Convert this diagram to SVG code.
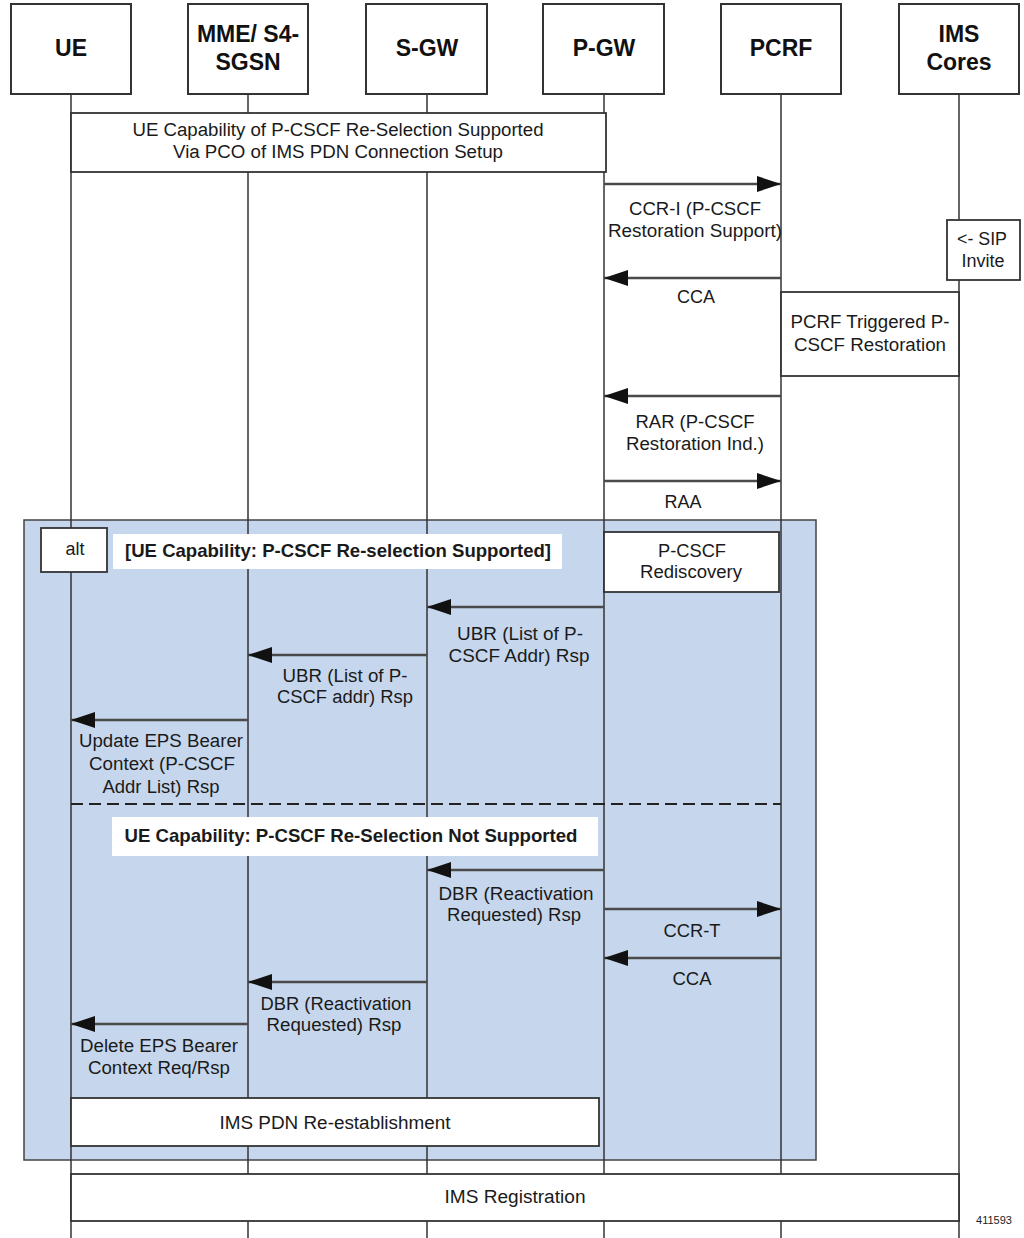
<svg xmlns="http://www.w3.org/2000/svg" width="1024" height="1238" viewBox="0 0 1024 1238">
<style>
.hdr{fill:#fff;stroke:#333;stroke-width:2}
.life{stroke:#333;stroke-width:1.5;fill:none}
.box{fill:#fff;stroke:#333;stroke-width:1.8}
.msg{stroke:#4a4a4a;stroke-width:2.5;fill:none;marker-end:url(#ah)}
.ht{font-family:"Liberation Sans",Arial,sans-serif;font-weight:bold;font-size:23px;fill:#111;text-anchor:middle}
.t{font-family:"Liberation Sans",Arial,sans-serif;font-size:18px;fill:#1a1a1a;text-anchor:middle}
.g{font-family:"Liberation Sans",Arial,sans-serif;font-weight:bold;font-size:19px;fill:#1a1a1a;text-anchor:middle}
</style>
<defs>
<marker id="ah" markerUnits="userSpaceOnUse" markerWidth="24" markerHeight="16" refX="24" refY="8" orient="auto">
<path d="M0,0 L24,8 L0,16 z" fill="#111"/>
</marker>
</defs>
<rect x="0" y="0" width="1024" height="1238" fill="#fff"/>

<g id="alt-frame">
<rect x="24" y="520" width="792" height="640" fill="#c6d7ed" stroke="#444" stroke-width="1.5"/>
</g>

<g id="lifelines">
<line class="life" x1="71" y1="94" x2="71" y2="1238"/>
<line class="life" x1="248" y1="94" x2="248" y2="1238"/>
<line class="life" x1="427" y1="94" x2="427" y2="1238"/>
<line class="life" x1="604" y1="94" x2="604" y2="1238"/>
<line class="life" x1="781" y1="94" x2="781" y2="1238"/>
<line class="life" x1="959" y1="94" x2="959" y2="1238"/>
</g>

<g id="UE"><rect class="hdr" x="11" y="4" width="120" height="90"/><text class="ht" x="71" y="56">UE</text></g>
<g id="MME"><rect class="hdr" x="188" y="4" width="120" height="90"/><text class="ht" x="248" y="42">MME/ S4-</text><text class="ht" x="248" y="70">SGSN</text></g>
<g id="SGW"><rect class="hdr" x="366" y="4" width="121" height="90"/><text class="ht" x="427" y="56">S-GW</text></g>
<g id="PGW"><rect class="hdr" x="543" y="4" width="121" height="90"/><text class="ht" x="604" y="56">P-GW</text></g>
<g id="PCRF"><rect class="hdr" x="721" y="4" width="120" height="90"/><text class="ht" x="781" y="56">PCRF</text></g>
<g id="IMS"><rect class="hdr" x="899" y="4" width="120" height="90"/><text class="ht" x="959" y="42">IMS</text><text class="ht" x="959" y="70">Cores</text></g>

<g id="note-capability">
<rect class="box" x="71" y="113" width="535" height="59"/>
<text class="t" x="338" y="136" textLength="411" lengthAdjust="spacingAndGlyphs">UE Capability of P-CSCF Re-Selection Supported</text>
<text class="t" x="338" y="158" textLength="330" lengthAdjust="spacingAndGlyphs">Via PCO of IMS PDN Connection Setup</text>
</g>

<g id="note-sip">
<rect class="box" x="947" y="220" width="73" height="60"/>
<text class="t" x="982" y="245" textLength="50" lengthAdjust="spacingAndGlyphs">&lt;- SIP</text>
<text class="t" x="983" y="267" textLength="43" lengthAdjust="spacingAndGlyphs">Invite</text>
</g>

<g id="note-pcrf-triggered">
<rect class="box" x="781" y="292" width="178" height="84"/>
<text class="t" x="870" y="328" textLength="159" lengthAdjust="spacingAndGlyphs">PCRF Triggered P-</text>
<text class="t" x="870" y="351" textLength="152" lengthAdjust="spacingAndGlyphs">CSCF Restoration</text>
</g>

<g id="alt-tag">
<rect class="box" x="41" y="528" width="66" height="44"/>
<text class="t" x="75" y="555" textLength="19" lengthAdjust="spacingAndGlyphs">alt</text>
</g>

<g id="guard-1">
<rect x="113" y="534" width="449" height="35" fill="#fff"/>
<text class="g" x="338" y="557" textLength="426" lengthAdjust="spacingAndGlyphs">[UE Capability: P-CSCF Re-selection Supported]</text>
</g>

<g id="note-rediscovery">
<rect class="box" x="604" y="532" width="175" height="60"/>
<text class="t" x="692" y="557" textLength="68" lengthAdjust="spacingAndGlyphs">P-CSCF</text>
<text class="t" x="691" y="578" textLength="102" lengthAdjust="spacingAndGlyphs">Rediscovery</text>
</g>

<g id="separator">
<line x1="71" y1="804" x2="781" y2="804" stroke="#222" stroke-width="2" stroke-dasharray="12 6"/>
</g>

<g id="guard-2">
<rect x="112" y="817" width="486" height="39" fill="#fff"/>
<text class="g" x="351" y="842" textLength="453" lengthAdjust="spacingAndGlyphs">UE Capability: P-CSCF Re-Selection Not Supported</text>
</g>

<g id="note-pdn">
<rect class="box" x="71" y="1098" width="528" height="48"/>
<text class="t" x="335" y="1129" textLength="231" lengthAdjust="spacingAndGlyphs">IMS PDN Re-establishment</text>
</g>

<g id="note-registration">
<rect class="box" x="71" y="1174" width="888" height="47"/>
<text class="t" x="515" y="1203" textLength="141" lengthAdjust="spacingAndGlyphs">IMS Registration</text>
</g>

<g id="connectors">
<line class="msg" x1="604" y1="184" x2="781" y2="184"/>
<line class="msg" x1="781" y1="278" x2="604" y2="278"/>
<line class="msg" x1="781" y1="396" x2="604" y2="396"/>
<line class="msg" x1="604" y1="481" x2="781" y2="481"/>
<line class="msg" x1="604" y1="607" x2="427" y2="607"/>
<line class="msg" x1="427" y1="655" x2="248" y2="655"/>
<line class="msg" x1="248" y1="720" x2="71" y2="720"/>
<line class="msg" x1="604" y1="870" x2="427" y2="870"/>
<line class="msg" x1="604" y1="909" x2="781" y2="909"/>
<line class="msg" x1="781" y1="958" x2="604" y2="958"/>
<line class="msg" x1="427" y1="982" x2="248" y2="982"/>
<line class="msg" x1="248" y1="1024" x2="71" y2="1024"/>
</g>

<g id="labels">
<text class="t" x="695" y="215" textLength="132" lengthAdjust="spacingAndGlyphs">CCR-I (P-CSCF</text>
<text class="t" x="695" y="237" textLength="174" lengthAdjust="spacingAndGlyphs">Restoration Support)</text>
<text class="t" x="696" y="303" textLength="38" lengthAdjust="spacingAndGlyphs">CCA</text>
<text class="t" x="695" y="428" textLength="119" lengthAdjust="spacingAndGlyphs">RAR (P-CSCF</text>
<text class="t" x="695" y="450" textLength="138" lengthAdjust="spacingAndGlyphs">Restoration Ind.)</text>
<text class="t" x="683" y="508" textLength="37" lengthAdjust="spacingAndGlyphs">RAA</text>
<text class="t" x="520" y="640" textLength="126" lengthAdjust="spacingAndGlyphs">UBR (List of P-</text>
<text class="t" x="519" y="662" textLength="141" lengthAdjust="spacingAndGlyphs">CSCF Addr) Rsp</text>
<text class="t" x="345" y="682" textLength="125" lengthAdjust="spacingAndGlyphs">UBR (List of P-</text>
<text class="t" x="345" y="703" textLength="136" lengthAdjust="spacingAndGlyphs">CSCF addr) Rsp</text>
<text class="t" x="161" y="747" textLength="164" lengthAdjust="spacingAndGlyphs">Update EPS Bearer</text>
<text class="t" x="162" y="770" textLength="146" lengthAdjust="spacingAndGlyphs">Context (P-CSCF</text>
<text class="t" x="161" y="793" textLength="117" lengthAdjust="spacingAndGlyphs">Addr List) Rsp</text>
<text class="t" x="516" y="900" textLength="155" lengthAdjust="spacingAndGlyphs">DBR (Reactivation</text>
<text class="t" x="514" y="921" textLength="134" lengthAdjust="spacingAndGlyphs">Requested) Rsp</text>
<text class="t" x="692" y="937" textLength="57" lengthAdjust="spacingAndGlyphs">CCR-T</text>
<text class="t" x="692" y="985" textLength="39" lengthAdjust="spacingAndGlyphs">CCA</text>
<text class="t" x="336" y="1010" textLength="151" lengthAdjust="spacingAndGlyphs">DBR (Reactivation</text>
<text class="t" x="334" y="1031" textLength="135" lengthAdjust="spacingAndGlyphs">Requested) Rsp</text>
<text class="t" x="159" y="1052" textLength="158" lengthAdjust="spacingAndGlyphs">Delete EPS Bearer</text>
<text class="t" x="159" y="1074" textLength="142" lengthAdjust="spacingAndGlyphs">Context Req/Rsp</text>
</g>

<text x="994" y="1224" font-family="'Liberation Sans',Arial,sans-serif" font-size="11" fill="#222" text-anchor="middle">411593</text>
</svg>
